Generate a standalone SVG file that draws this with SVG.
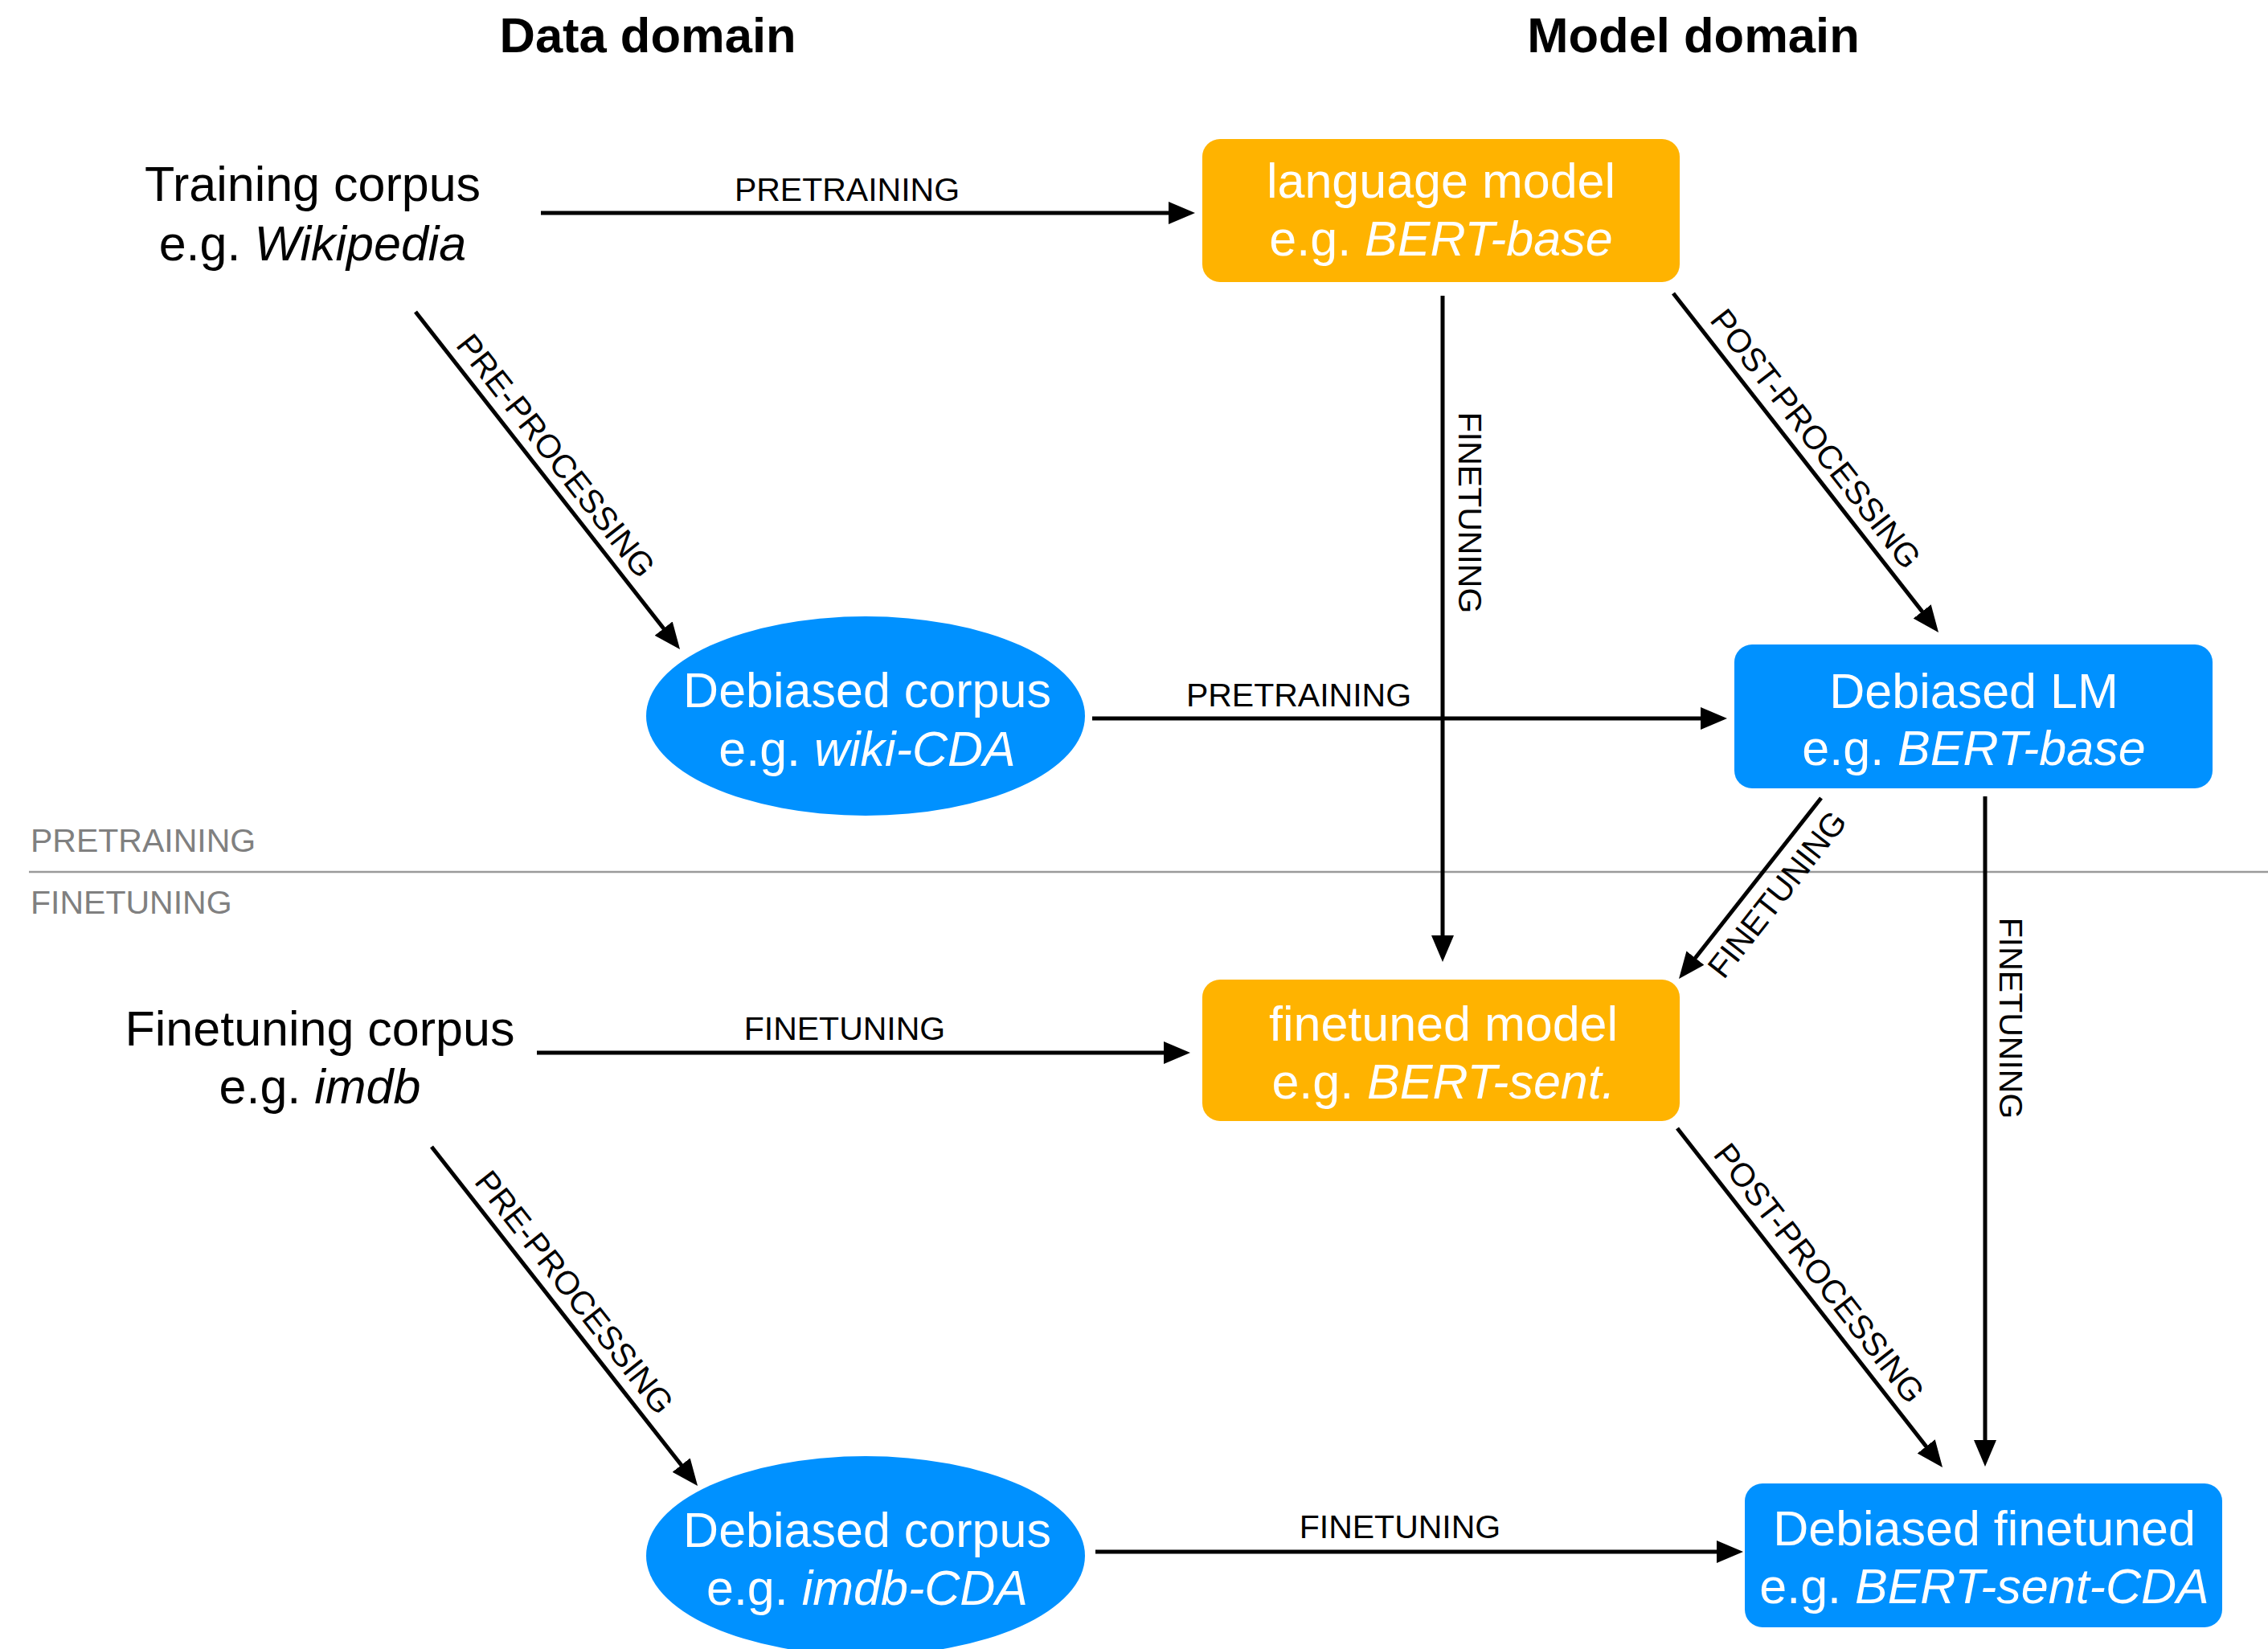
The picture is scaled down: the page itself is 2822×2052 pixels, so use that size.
<svg xmlns="http://www.w3.org/2000/svg" width="2822" height="2052" viewBox="0 0 2822 2052">
<defs>
<marker id="arrow" viewBox="0 0 33 28" refX="13" refY="14" markerWidth="33" markerHeight="28" markerUnits="userSpaceOnUse" orient="auto">
<path d="M0,0 L33,14 L0,28 Z" fill="#000"/>
</marker>
<style>
.title{font-family:"Liberation Sans",Arial,sans-serif;font-weight:bold;font-size:61.5px;fill:#000;text-anchor:middle}
.txt{font-family:"Liberation Sans",Arial,sans-serif;font-size:61px;fill:#000;text-anchor:middle}
.wtxt{font-family:"Liberation Sans",Arial,sans-serif;font-size:61px;fill:#fff;text-anchor:middle}
.it{font-style:italic}
.lbl{font-family:"Liberation Sans",Arial,sans-serif;font-size:41px;fill:#000;text-anchor:middle}
.sec{font-family:"Liberation Sans",Arial,sans-serif;font-size:41px;fill:#808080}
.edge{stroke:#000;stroke-width:5;fill:none;marker-end:url(#arrow)}
.orange{fill:#FFB300}
.blue{fill:#0091FF}
</style>
</defs>
<rect width="2822" height="2052" fill="#fff"/>

<g id="titles">
<text class="title" x="806" y="65">Data domain</text>
<text class="title" x="2107" y="65">Model domain</text>
</g>

<g id="section-divider">
<line x1="36" y1="1085" x2="2822" y2="1085" stroke="#9a9a9a" stroke-width="2.5"/>
<text class="sec" x="38" y="1060">PRETRAINING</text>
<text class="sec" x="38" y="1137">FINETUNING</text>
</g>

<g id="connectors">
<line class="edge" x1="673" y1="265" x2="1467" y2="265"/>
<text class="lbl" x="1054" y="250">PRETRAINING</text>

<line class="edge" x1="517" y1="388" x2="833.7" y2="792.3"/>
<text class="lbl" transform="translate(681.5,598) rotate(51.9)" x="-18" y="-13">PRE-PROCESSING</text>

<line class="edge" x1="2082" y1="365" x2="2399.7" y2="771.2"/>
<text class="lbl" transform="translate(2247,576) rotate(52)" x="-16" y="-14">POST-PROCESSING</text>

<line class="edge" x1="1795" y1="368" x2="1795" y2="1177"/>
<text class="lbl" transform="translate(1815,638) rotate(90)" x="0" y="0">FINETUNING</text>

<line class="edge" x1="1359" y1="894" x2="2129" y2="894"/>
<text class="lbl" x="1616" y="879">PRETRAINING</text>

<line class="edge" x1="2266" y1="993" x2="2101.4" y2="1202.3"/>
<text class="lbl" transform="translate(2177.5,1105.5) rotate(-51.8)" x="15" y="45">FINETUNING</text>

<line class="edge" x1="2470" y1="991" x2="2470" y2="1805"/>
<text class="lbl" transform="translate(2488,1267) rotate(90)" x="0" y="0">FINETUNING</text>

<line class="edge" x1="668" y1="1310" x2="1461" y2="1310"/>
<text class="lbl" x="1051" y="1294">FINETUNING</text>

<line class="edge" x1="2087" y1="1404" x2="2404.7" y2="1810.2"/>
<text class="lbl" transform="translate(2252,1615) rotate(52)" x="-17" y="-14">POST-PROCESSING</text>

<line class="edge" x1="537" y1="1427" x2="855.7" y2="1833.3"/>
<text class="lbl" transform="translate(702.5,1638) rotate(51.9)" x="-16" y="-14">PRE-PROCESSING</text>

<line class="edge" x1="1363" y1="1931" x2="2149" y2="1931"/>
<text class="lbl" x="1742" y="1914">FINETUNING</text>
</g>

<g id="training-corpus">
<text class="txt" x="389" y="250">Training corpus</text>
<text class="txt" x="389" y="324">e.g. <tspan class="it">Wikipedia</tspan></text>
</g>

<g id="language-model">
<rect class="orange" x="1496" y="173" width="594" height="178" rx="22" ry="22"/>
<text class="wtxt" x="1793" y="246">language model</text>
<text class="wtxt" x="1793" y="318">e.g. <tspan class="it">BERT-base</tspan></text>
</g>

<g id="debiased-corpus-wiki">
<ellipse class="blue" cx="1077" cy="891" rx="273" ry="124"/>
<text class="wtxt" x="1079" y="880">Debiased corpus</text>
<text class="wtxt" x="1079" y="953">e.g. <tspan class="it">wiki-CDA</tspan></text>
</g>

<g id="debiased-lm">
<rect class="blue" x="2158" y="802" width="595" height="179" rx="22" ry="22"/>
<text class="wtxt" x="2456" y="881">Debiased LM</text>
<text class="wtxt" x="2456" y="952">e.g. <tspan class="it">BERT-base</tspan></text>
</g>

<g id="finetuning-corpus">
<text class="txt" x="398" y="1301">Finetuning corpus</text>
<text class="txt" x="398" y="1373">e.g. <tspan class="it">imdb</tspan></text>
</g>

<g id="finetuned-model">
<rect class="orange" x="1496" y="1219" width="594" height="176" rx="22" ry="22"/>
<text class="wtxt" x="1796" y="1295">finetuned model</text>
<text class="wtxt" x="1796" y="1367">e.g. <tspan class="it">BERT-sent.</tspan></text>
</g>

<g id="debiased-corpus-imdb">
<ellipse class="blue" cx="1077" cy="1936" rx="273" ry="124"/>
<text class="wtxt" x="1079" y="1925">Debiased corpus</text>
<text class="wtxt" x="1079" y="1997">e.g. <tspan class="it">imdb-CDA</tspan></text>
</g>

<g id="debiased-finetuned">
<rect class="blue" x="2171" y="1846" width="594" height="179" rx="22" ry="22"/>
<text class="wtxt" x="2469" y="1923">Debiased finetuned</text>
<text class="wtxt" x="2469" y="1995">e.g. <tspan class="it">BERT-sent-CDA</tspan></text>
</g>
</svg>
